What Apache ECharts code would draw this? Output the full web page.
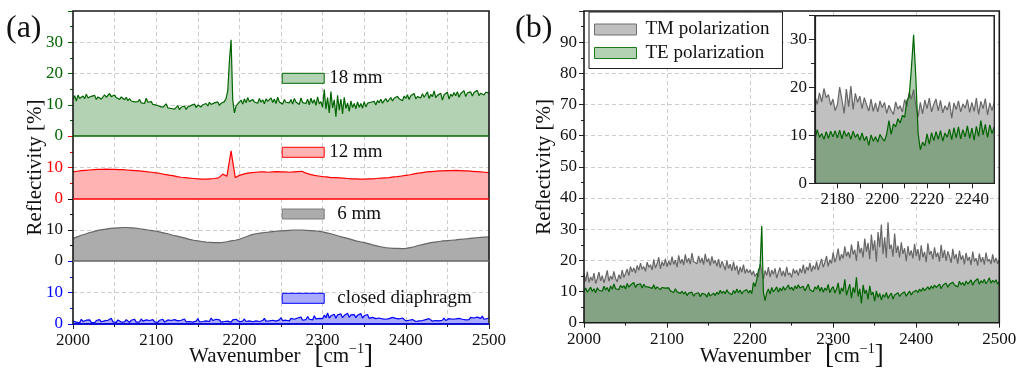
<!DOCTYPE html>
<html>
<head>
<meta charset="utf-8">
<script src="https://cdn.jsdelivr.net/npm/echarts@6/dist/echarts.min.js"></script>
<style>html,body{margin:0;padding:0;background:#fff;}#chart{width:1021px;height:375px;}</style>
</head>
<body>
<div id="chart"></div>
<script>
// ---------------- data ----------------
const WN_MIN = 2000, WN_MAX = 2500;
const STEP_FINE = 2;      // cm^-1 sampling of noisy spectra
const STEP_SMOOTH = 5;    // cm^-1 sampling of smooth spectra
const INSET_START = 2170, INSET_END = 2250, STEP_INSET = 1;

// panel (a), 18 mm (green)
const refl18mm = [
11.8,12.9,11.2,13.1,12.0,11.5,12.8,11.9,13.4,12.2,
11.6,12.7,12.1,13.0,11.7,12.5,12.9,11.8,12.3,13.2,
12.4,11.9,13.6,12.6,12.0,13.1,12.3,12.8,11.7,12.5,
12.2,11.6,12.4,11.3,12.0,11.2,11.8,10.9,11.5,11.0,
11.7,10.6,11.2,10.4,12.1,10.8,10.3,11.0,10.1,10.6,
9.9,10.4,9.5,10.1,9.2,9.8,10.3,9.0,9.6,8.8,
9.4,8.6,9.1,9.7,8.4,9.2,8.9,9.6,8.5,9.3,
9.0,9.8,9.4,10.2,9.1,9.9,10.5,9.3,10.0,9.7,
10.4,9.6,10.8,10.1,9.7,10.6,10.0,10.9,9.8,10.5,
10.2,11.0,12.0,14.5,24.0,30.8,11.5,7.4,9.6,10.3,
10.8,11.5,10.2,11.9,10.6,12.3,11.0,10.4,11.7,10.9,
11.4,10.5,12.0,10.8,11.6,10.3,11.9,11.1,10.6,12.2,
10.7,11.8,10.4,12.4,10.9,11.5,10.2,11.7,10.8,11.3,
10.6,11.7,10.2,12.0,10.9,11.4,10.1,12.2,10.7,11.3,
10.4,11.8,10.0,12.1,10.5,11.6,9.8,12.5,10.3,11.0,
9.2,14.9,8.6,12.3,7.4,14.2,9.0,11.6,6.2,13.0,
8.3,11.8,7.1,12.4,8.8,10.6,7.9,11.2,9.1,10.4,
8.7,10.9,9.2,10.4,8.9,11.0,9.3,10.5,9.9,10.8,
10.2,11.1,9.9,11.4,10.6,11.8,10.5,11.3,12.0,10.9,
11.6,12.3,11.2,12.1,11.5,12.7,11.9,12.4,11.3,12.8,
12.0,13.2,11.7,12.9,12.3,13.6,11.9,12.6,13.1,12.2,
13.5,12.4,12.9,14.1,12.0,13.3,12.6,14.4,12.3,13.0,
12.5,13.7,11.5,13.2,12.8,14.0,11.8,13.4,12.7,13.9,
12.9,14.2,12.4,13.6,13.1,14.5,12.6,13.8,13.3,14.1,
12.8,13.9,13.4,14.6,12.9,13.7,14.3,13.1,14.0,13.5,
13.8];

// panel (a), 12 mm (red), 5 cm^-1 sampling
const refl12mm = [
8.6,8.8,9.0,9.1,9.2,9.3,9.4,9.4,9.5,9.4,
9.4,9.3,9.3,9.2,9.1,9.0,8.9,8.8,8.6,8.5,
8.3,8.1,7.8,7.6,7.4,7.1,6.9,6.8,6.6,6.5,
6.4,6.3,6.3,6.4,6.5,6.7,7.9,7.2,15.3,6.8,
7.5,7.9,8.2,8.4,8.5,8.6,8.6,8.5,8.6,8.7,
8.6,8.6,8.5,8.6,8.7,8.8,8.2,7.8,7.5,7.3,
7.1,7.0,6.8,6.8,6.7,6.6,6.5,6.4,6.4,6.3,
6.3,6.4,6.4,6.5,6.6,6.7,6.8,7.0,7.1,7.3,
7.5,7.7,8.0,8.2,8.4,8.6,8.7,8.8,8.9,8.9,
9.0,9.0,9.1,9.0,8.9,8.9,8.8,8.7,8.6,8.5,
8.4];

// panel (a), 6 mm (gray), 5 cm^-1 sampling
const refl6mm = [
7.3,7.8,8.3,8.7,9.2,9.5,9.9,10.1,10.3,10.5,
10.6,10.7,10.8,10.8,10.7,10.6,10.4,10.2,10.0,9.8,
9.6,9.3,9.0,8.7,8.3,8.0,7.7,7.4,7.0,6.7,
6.5,6.3,6.1,6.0,5.9,5.9,6.0,6.2,6.5,6.7,
7.0,7.5,8.0,8.5,8.8,9.0,9.2,9.3,9.5,9.6,
9.7,9.8,9.9,10.0,10.0,10.0,9.9,9.8,9.7,9.6,
9.4,9.1,8.8,8.4,8.0,7.6,7.3,6.9,6.5,6.2,
5.9,5.6,5.2,4.9,4.6,4.3,4.2,4.1,4.1,4.0,
4.1,4.3,4.6,5.0,5.3,5.6,5.9,6.1,6.3,6.5,
6.6,6.7,6.8,7.0,7.1,7.2,7.4,7.5,7.6,7.7,
7.8];

// panel (a), closed diaphragm (blue)
const reflClosed = [
0.9,1.4,0.6,1.1,0.4,1.5,0.8,0.5,1.2,0.7,
1.3,0.5,0.9,0.4,1.1,0.6,1.4,0.7,0.5,1.0,
0.6,1.2,0.8,1.8,0.7,1.0,0.5,1.3,0.9,0.6,
1.1,0.7,1.4,0.8,0.5,1.2,0.9,1.5,0.6,1.0,
0.7,1.6,0.9,0.5,1.3,0.8,1.1,0.6,1.4,0.7,
1.0,0.5,1.2,0.8,1.5,0.6,0.9,1.3,0.7,1.1,
0.6,1.4,0.8,1.0,0.5,1.2,0.9,1.6,0.7,1.0,
0.8,1.3,0.6,1.1,0.9,1.7,0.7,1.2,0.8,1.4,
1.0,1.6,0.8,1.9,1.1,0.7,1.5,0.9,1.3,0.6,
1.2,0.8,1.4,0.9,1.1,0.6,1.3,0.8,1.5,1.0,
0.7,1.3,0.9,1.6,0.8,1.2,1.0,1.5,0.7,1.3,
1.0,1.6,0.8,1.4,1.1,1.8,0.9,1.3,1.0,1.5,
1.2,1.7,0.9,1.5,1.3,2.0,1.1,1.6,1.2,1.4,
1.0,1.8,1.3,1.5,1.1,1.9,1.4,2.2,1.2,1.6,
1.4,2.4,1.5,1.9,1.3,2.6,1.6,2.1,1.8,2.3,
1.7,2.8,2.0,3.5,1.9,2.6,2.2,3.1,1.8,2.9,
2.3,3.2,2.0,2.7,2.5,3.4,2.1,2.9,2.4,3.0,
2.0,2.8,2.3,3.3,1.9,2.6,2.2,3.0,1.8,2.4,
2.1,2.7,1.7,2.3,1.9,2.5,1.6,2.2,1.5,2.0,
1.7,1.3,2.1,1.5,1.8,1.2,1.6,1.1,1.9,1.3,
1.0,1.5,1.2,0.9,1.4,1.1,0.8,1.3,1.0,1.6,
1.1,0.9,1.4,1.0,1.7,1.2,0.9,1.5,1.1,1.3,
1.0,1.6,1.2,1.9,1.1,1.4,1.7,1.2,1.5,1.0,
1.6,1.3,1.8,1.2,1.5,2.0,1.3,1.7,1.4,2.1,
1.5,1.9,1.3,2.2,1.6,1.8,2.5,1.5,2.0,1.7,
1.9];

// panel (b), TM polarization
const reflTM = [
15.8,13.2,16.4,12.9,14.7,13.5,15.9,12.6,14.1,16.2,
13.4,15.1,12.8,14.6,16.8,13.3,15.0,13.9,16.5,14.2,
13.1,15.4,14.0,16.9,14.5,15.8,17.2,15.1,18.0,16.3,
17.6,15.9,18.4,16.8,19.1,17.2,18.0,16.5,19.4,17.8,
18.6,16.9,20.3,17.5,18.9,21.0,17.3,19.6,18.2,20.5,
17.9,19.8,18.4,21.2,18.7,20.1,17.8,21.6,19.0,20.4,
18.5,21.9,19.3,20.7,18.8,22.3,19.6,20.2,18.9,21.4,
19.2,20.8,18.6,22.1,19.4,20.6,18.3,21.3,19.0,20.0,
18.1,20.4,17.6,19.7,18.5,16.9,19.9,17.4,18.8,16.6,
19.5,16.8,18.3,15.4,17.9,16.2,18.6,15.8,17.2,16.0,
17.0,15.3,16.6,14.8,15.9,14.6,18.8,19.3,14.0,16.8,
15.2,17.8,14.6,16.9,15.5,17.4,14.3,16.2,17.7,15.0,
16.6,14.8,17.9,15.3,16.0,14.5,17.3,15.8,16.9,15.1,
17.4,16.0,18.6,15.7,17.9,16.8,19.2,16.4,18.3,17.1,
19.6,16.9,18.7,20.5,17.8,19.3,21.4,18.1,20.2,19.0,
22.6,19.4,21.1,23.8,19.9,22.0,20.6,24.5,21.3,22.8,
20.7,25.1,21.9,23.4,19.8,26.2,22.3,24.0,20.9,27.0,
22.8,25.6,20.4,28.3,23.1,26.4,19.6,29.1,24.2,31.5,
22.0,27.4,20.8,32.2,23.6,25.0,21.2,28.6,22.4,24.7,
20.9,25.8,22.1,23.9,19.7,24.6,21.5,23.2,20.6,25.3,
21.4,23.6,19.9,24.8,21.0,22.7,19.4,25.5,21.8,23.0,
20.3,24.2,21.1,22.5,19.6,25.0,20.8,23.4,19.8,22.9,
21.3,19.2,23.7,20.5,22.0,18.9,23.1,20.2,21.6,18.7,
22.4,19.9,21.1,18.5,22.8,19.6,20.7,18.3,22.2,19.4,
21.0,18.6,22.5,19.7,20.4,18.8,21.9,19.3,20.8,18.9,
20.3];

// panel (b), TE polarization
const reflTE = [
10.2,11.1,9.8,10.6,11.4,10.0,10.9,9.6,11.2,10.4,
11.0,10.1,11.7,10.5,11.3,9.9,11.8,10.7,12.4,10.9,
11.5,10.6,12.0,11.2,11.9,10.8,12.6,11.4,12.1,11.7,
12.9,11.3,12.2,11.8,12.5,11.1,12.3,11.6,12.0,11.4,
11.9,11.0,12.2,10.8,11.5,11.7,10.6,11.3,10.9,11.1,
10.5,11.2,10.2,10.8,9.7,10.9,9.9,10.3,9.4,10.1,
9.2,9.9,8.7,9.5,9.0,9.8,8.5,9.3,8.9,9.6,
8.3,9.4,8.8,9.1,8.2,9.7,8.6,9.0,9.5,8.7,
9.8,9.1,10.4,9.4,10.1,9.3,10.6,9.6,10.2,9.0,
10.3,9.4,10.8,9.6,10.5,9.2,10.1,9.8,10.6,9.5,
10.4,9.3,12.9,11.6,13.8,16.8,18.0,31.0,9.8,7.1,
9.6,10.8,9.2,11.3,9.9,10.6,11.5,9.8,11.1,10.2,
11.6,10.4,11.0,12.1,10.7,11.4,10.3,11.8,10.9,12.2,
11.1,10.5,11.7,10.2,11.3,12.4,10.6,11.2,9.9,11.5,
10.8,12.0,10.1,11.4,9.8,11.1,10.4,12.3,9.6,10.9,
11.6,9.5,10.7,12.8,9.1,11.2,10.0,13.9,8.8,10.6,
12.4,7.9,11.3,9.6,14.6,8.4,10.9,6.2,12.1,9.3,
10.5,7.5,11.8,8.9,9.8,6.9,10.2,8.1,9.4,7.3,
9.0,8.2,9.7,7.8,8.8,9.5,7.6,8.9,8.3,9.6,
8.4,9.2,8.7,9.9,8.5,9.4,10.1,8.9,9.8,9.3,
10.4,9.6,10.8,10.0,11.2,10.3,10.9,11.5,10.6,11.8,
11.0,12.1,11.3,11.7,12.4,10.9,12.0,11.6,12.7,11.4,
12.3,11.8,13.0,12.1,12.6,11.5,13.3,12.2,12.9,11.9,
13.4,12.4,12.8,13.7,12.0,13.2,12.6,14.1,12.3,13.5,
12.8,13.9,12.5,13.3,14.4,12.7,13.6,12.9,13.8,12.4,
13.1];

// inset of panel (b), 1 cm^-1 sampling, 2170..2250
const insetTM = [
18.2,16.5,18.9,17.0,19.8,17.9,18.5,16.3,17.6,15.2,
16.4,20.1,17.5,14.6,19.7,16.0,20.3,15.4,18.8,16.9,
18.2,15.6,17.9,16.4,15.1,17.6,15.0,16.8,14.9,17.2,
15.8,16.9,14.6,16.3,15.2,14.4,17.0,15.5,16.2,14.9,
17.5,16.0,19.0,17.6,19.6,16.2,13.8,16.9,14.5,17.4,
15.6,17.8,14.9,16.5,17.6,15.1,17.3,14.7,16.2,15.3,
17.0,13.6,16.8,15.4,17.2,14.9,16.6,15.7,17.5,14.8,
16.9,15.0,17.8,14.4,17.1,15.6,17.7,14.3,16.8,15.2,
17.0];
const insetTE = [
9.3,11.2,9.6,10.4,9.2,10.8,9.4,10.9,9.7,11.0,
9.5,11.1,9.3,11.0,9.8,10.6,9.2,10.9,9.6,10.3,
9.0,10.5,8.9,9.8,7.9,10.1,8.8,9.7,8.6,10.2,
9.4,8.8,10.3,13.1,10.2,12.4,11.8,13.5,12.6,14.2,
13.8,17.3,18.0,24.0,31.0,22.0,10.5,7.0,8.6,7.8,
10.3,8.2,10.6,8.9,10.8,9.2,11.0,8.8,10.5,9.6,
11.3,9.1,11.6,9.5,11.8,9.3,11.2,9.7,12.0,9.4,
11.5,9.0,11.9,9.8,13.1,10.1,12.3,9.6,12.2,10.4,
11.8];

// tick / axis ranges
const yMaxA = [40, 20, 20, 20];
const yMaxB = 100, yMaxInset = 35;
const seriesNamesA = ['18 mm', '12 mm', '6 mm', 'closed diaphragm'];
const seriesNamesB = ['TM polarization', 'TE polarization'];
const panelLabels = ['(a)', '(b)'];
const yName = 'Reflectivity [%]';

// ---------------- chart ----------------
const FONT = 'Liberation Serif';
const INK = '#111';
const DASH = { color: '#cdcdcd', width: 1, type: [4, 3] };
function pairs(start, step, vals) { return vals.map((v, i) => [start + i * step, v]); }

const colA = [
  { line: '#006400', fill: '#b3d1b3', label: '#006400', legBorder: '#006400' },
  { line: '#ff0000', fill: '#ffb3b3', label: '#ff0000', legBorder: '#ff0000' },
  { line: '#666666', fill: '#acacac', label: '#111111', legBorder: '#7a7a7a' },
  { line: '#0000ff', fill: '#aaaaff', label: '#0000ff', legBorder: '#0000ff' }
];
const dataA = [
  pairs(WN_MIN, STEP_FINE, refl18mm),
  pairs(WN_MIN, STEP_SMOOTH, refl12mm),
  pairs(WN_MIN, STEP_SMOOTH, refl6mm),
  pairs(WN_MIN, STEP_FINE, reflClosed)
];
const gridTopsA = [11, 136, 199, 261];
const gridHeightsA = [125, 63, 62, 63];
const legendTopsA = [68.8, 142.8, 204.5, 288.8];
const legendPadA = [0, 0, 8, 8];

const xNameRich = {
  t: { fontFamily: FONT, fontSize: 21, color: INK },
  g: { width: 14 },
  b: { fontFamily: FONT, fontSize: 27, color: INK },
  s: { fontFamily: FONT, fontSize: 14, color: INK, verticalAlign: 'top' }
};
const xNameText = '{t|Wavenumber}{g|}{b|[}{t|cm}{s|\u22121}{b|]}';

const grids = [], xAxes = [], yAxes = [], series = [], legends = [];

for (let i = 0; i < 4; i++) {
  grids.push({ left: 73, width: 416, top: gridTopsA[i], height: gridHeightsA[i], show: false, outerBoundsMode: 'none', containLabel: false });
  const bottom = i === 3;
  xAxes.push({
    type: 'value', gridIndex: i, min: WN_MIN, max: WN_MAX, interval: 100,
    axisLine: { show: false },
    axisTick: { show: bottom, length: 5, lineStyle: { color: '#222', width: 1 } },
    minorTick: { show: bottom, splitNumber: 2, length: 3, lineStyle: { color: '#222', width: 1 } },
    axisLabel: { show: bottom, formatter: v => String(v), color: INK, fontFamily: FONT, fontSize: 17, margin: 8 },
    splitLine: { show: true, showMinLine: false, showMaxLine: false, lineStyle: DASH },
    minorSplitLine: { show: true, lineStyle: DASH },
    name: bottom ? xNameText : '', nameLocation: 'middle', nameGap: 18.5, nameMoveOverlap: false,
    nameTextStyle: { rich: xNameRich }
  });
  yAxes.push({
    type: 'value', gridIndex: i, min: 0, max: yMaxA[i], interval: 10,
    axisLine: { show: false },
    axisTick: { show: true, length: 5, lineStyle: { color: colA[i].label, width: 1 } },
    minorTick: { show: true, splitNumber: 2, length: 3, lineStyle: { color: colA[i].label, width: 1 } },
    axisLabel: { color: colA[i].label, fontFamily: FONT, fontSize: 17, margin: 10, showMaxLabel: false, formatter: v => String(v) },
    splitLine: { show: true, showMinLine: false, showMaxLine: false, lineStyle: DASH },
    name: i === 1 ? yName : '', nameLocation: 'middle', nameGap: 27, nameMoveOverlap: false,
    nameTextStyle: { fontFamily: FONT, fontSize: 21, color: INK }
  });
  series.push({
    name: seriesNamesA[i], type: 'line', xAxisIndex: i, yAxisIndex: i, data: dataA[i],
    symbol: 'none', showSymbol: false, silent: true, animation: false,
    lineStyle: { color: colA[i].line, width: 1.2 }, itemStyle: { color: colA[i].line },
    areaStyle: { color: colA[i].fill, opacity: 1 },
    markLine: { silent: true, symbol: 'none', label: { show: false }, animation: false,
      lineStyle: { color: colA[i].line, width: 1.5, type: 'solid' }, data: [{ yAxis: 0 }] }
  });
  legends.push({
    left: 281.7, top: legendTopsA[i], padding: 0, orient: 'vertical', selectedMode: false,
    itemWidth: 42, itemHeight: 10, icon: 'rect',
    textStyle: { fontFamily: FONT, fontSize: 19, color: INK, padding: [0, 0, 0, legendPadA[i]] },
    data: [{ name: seriesNamesA[i], itemStyle: { color: colA[i].fill, borderColor: colA[i].legBorder, borderWidth: 1 } }]
  });
}

// panel (b) main grid (index 4) -- border drawn above series
grids.push({ left: 584, width: 415.3, top: 11, height: 311.7, show: true, backgroundColor: 'transparent', borderColor: '#1a1a1a', borderWidth: 1.6, z: 5, outerBoundsMode: 'none', containLabel: false });
xAxes.push({
  type: 'value', gridIndex: 4, min: WN_MIN, max: WN_MAX, interval: 100,
  axisLine: { show: false },
  axisTick: { show: true, length: 5, lineStyle: { color: '#222' } },
  minorTick: { show: true, splitNumber: 2, length: 3, lineStyle: { color: '#222' } },
  axisLabel: { formatter: v => String(v), color: INK, fontFamily: FONT, fontSize: 17, margin: 8 },
  splitLine: { show: true, showMinLine: false, showMaxLine: false, lineStyle: DASH },
  name: xNameText, nameLocation: 'middle', nameGap: 19.8, nameMoveOverlap: false,
  nameTextStyle: { rich: xNameRich }
});
yAxes.push({
  type: 'value', gridIndex: 4, min: 0, max: yMaxB, interval: 10,
  axisLine: { show: false },
  axisTick: { show: true, length: 5, lineStyle: { color: '#222' } },
  minorTick: { show: true, splitNumber: 2, length: 3, lineStyle: { color: '#222' } },
  axisLabel: { color: INK, fontFamily: FONT, fontSize: 17, margin: 7, showMaxLabel: false, formatter: v => String(v) },
  splitLine: { show: true, showMinLine: false, showMaxLine: false, lineStyle: DASH },
  name: yName, nameLocation: 'middle', nameGap: 29, nameMoveOverlap: false,
  nameTextStyle: { fontFamily: FONT, fontSize: 21, color: INK }
});
const colB = [
  { line: '#666666', fill: '#c0c0c0', leg: '#bfbfbf', legBorder: '#6f6f6f' },
  { line: '#006400', fill: 'rgba(0,100,0,0.31)', leg: '#b3d1b3', legBorder: '#1a7a1a' }
];
const dataB = [pairs(WN_MIN, STEP_FINE, reflTM), pairs(WN_MIN, STEP_FINE, reflTE)];
const dataInset = [pairs(INSET_START, STEP_INSET, insetTM), pairs(INSET_START, STEP_INSET, insetTE)];
for (let k = 0; k < 2; k++) {
  series.push({
    name: seriesNamesB[k], type: 'line', xAxisIndex: 4, yAxisIndex: 4, data: dataB[k],
    symbol: 'none', showSymbol: false, silent: true, animation: false,
    lineStyle: { color: colB[k].line, width: 1.2 }, itemStyle: { color: colB[k].line },
    areaStyle: { color: colB[k].fill, opacity: 1 }
  });
}

// inset (grid 5) with white background
grids.push({ left: 815, width: 179.3, top: 15.7, height: 167.6, show: true, backgroundColor: '#ffffff', borderColor: '#222', borderWidth: 1.2, z: 3, outerBoundsMode: 'none', containLabel: false });
xAxes.push({
  type: 'value', gridIndex: 5, min: INSET_START, max: INSET_END, interval: 10, z: 6,
  axisLine: { show: true, lineStyle: { color: '#222', width: 1.2 } },
  axisTick: { show: true, length: 5, lineStyle: { color: '#222' } },
  axisLabel: { color: INK, fontFamily: FONT, fontSize: 17, margin: 8, showMinLabel: false, showMaxLabel: false,
    formatter: v => (v % 20 === 0 ? String(v) : '') },
  splitLine: { show: false }
});
yAxes.push({
  type: 'value', gridIndex: 5, min: 0, max: yMaxInset, interval: 10, z: 6,
  axisLine: { show: true, lineStyle: { color: '#222', width: 1.2 } },
  axisTick: { show: true, length: 6, lineStyle: { color: '#222' } },
  minorTick: { show: true, splitNumber: 2, length: 4, lineStyle: { color: '#222' } },
  axisLabel: { color: INK, fontFamily: FONT, fontSize: 17, margin: 8, showMaxLabel: false, formatter: v => String(v) },
  splitLine: { show: false }
});
for (let k = 0; k < 2; k++) {
  series.push({
    name: seriesNamesB[k], type: 'line', xAxisIndex: 5, yAxisIndex: 5, data: dataInset[k], z: 4,
    symbol: 'none', showSymbol: false, silent: true, animation: false,
    lineStyle: { color: colB[k].line, width: 1.2 }, itemStyle: { color: colB[k].line },
    areaStyle: { color: colB[k].fill, opacity: 1 }
  });
}
// inset frame on top
grids.push({ left: 815, width: 179.3, top: 15.7, height: 167.6, show: true, backgroundColor: 'transparent', borderColor: '#222', borderWidth: 1.2, z: 7, outerBoundsMode: 'none', containLabel: false });
// panel (a) outer frame
grids.push({ left: 73, width: 416, top: 11, height: 313, show: true, backgroundColor: 'transparent', borderColor: '#1a1a1a', borderWidth: 1.6, z: 5, outerBoundsMode: 'none', containLabel: false });

legends.push({
  left: 589, top: 12, orient: 'vertical', selectedMode: false,
  padding: [8, 13, 6, 5], itemGap: 4.5, itemWidth: 42, itemHeight: 11, icon: 'rect',
  backgroundColor: '#ffffff', borderColor: '#222', borderWidth: 1, borderRadius: 0,
  textStyle: { fontFamily: FONT, fontSize: 19, color: INK, padding: [0, 0, 0, 4] },
  data: seriesNamesB.map((n, k) => ({ name: n, itemStyle: { color: colB[k].leg, borderColor: colB[k].legBorder, borderWidth: 1 } }))
});

const chart = echarts.init(document.getElementById('chart'), null, { renderer: 'canvas' });
chart.setOption({
  animation: false,
  backgroundColor: '#ffffff',
  title: [
    { text: panelLabels[0], left: 6, top: 13, padding: 0, textStyle: { fontFamily: FONT, fontSize: 32, fontWeight: 'normal', color: INK } },
    { text: panelLabels[1], left: 515, top: 13, padding: 0, textStyle: { fontFamily: FONT, fontSize: 32, fontWeight: 'normal', color: INK } }
  ],
  grid: grids, xAxis: xAxes, yAxis: yAxes, series: series, legend: legends,
  tooltip: { show: false }
});
</script>
</body>
</html>
